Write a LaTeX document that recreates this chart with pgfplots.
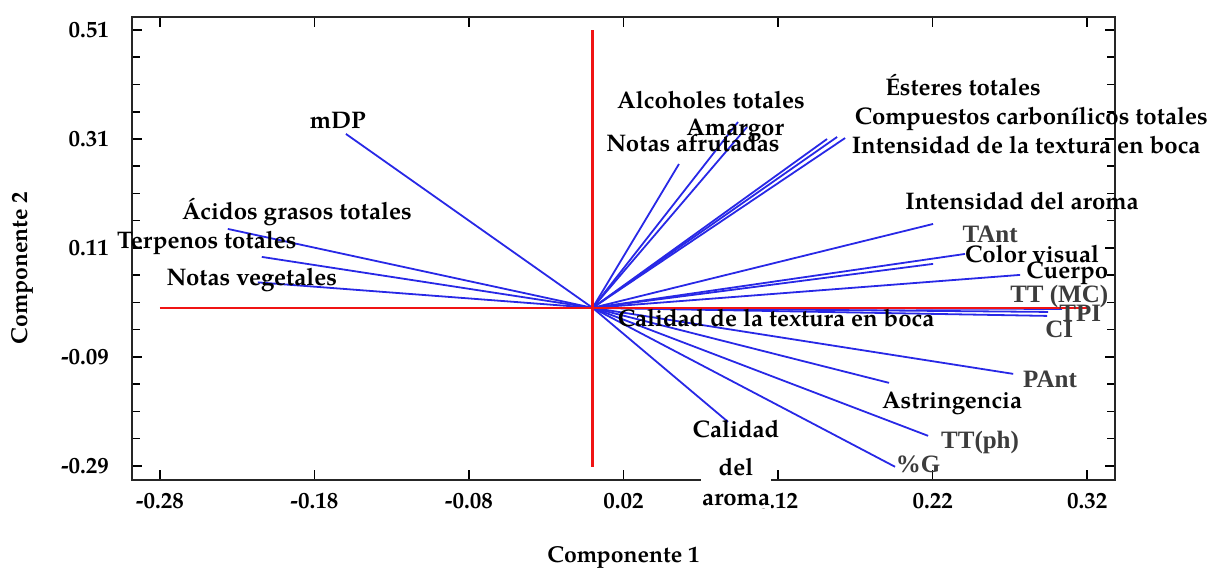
\documentclass[border=0pt]{standalone}
\usepackage{fontspec}
\setmainfont{texgyrepagella}[Extension=.otf, UprightFont=*-regular, BoldFont=*-bold, ItalicFont=*-italic, BoldItalicFont=*-bolditalic]
\newfontfamily\graylab{Liberation Serif}
\usepackage{pgfplots}
\pgfplotsset{compat=1.18}
\definecolor{vblue}{RGB}{40,40,230}
\definecolor{vred}{RGB}{240,20,20}
\definecolor{glab}{RGB}{60,60,60}
\begin{document}
\begin{tikzpicture}[
 lab/.style={font=\bfseries\fontsize{12}{14}\selectfont, inner sep=0pt, text height=8.5pt, text depth=2.5pt},
 glab/.style={font=\graylab\bfseries\fontsize{12.5}{15}\selectfont, text=glab, inner sep=0pt, text height=9pt, text depth=2.5pt},
 bl/.style={vblue, line width=0.9pt}]
\begin{axis}[name=ax, scale only axis, width=491.5pt, height=231.5pt,
 xmin=-0.298, xmax=0.338, ymin=-0.316, ymax=0.534,
 xtick={-0.28,-0.18,-0.08,0.02,0.12,0.22,0.32},
 xticklabels={-0.28,-0.18,-0.08,0.02,0.12,0.22,0.32},
 ytick={-0.29,-0.09,0.11,0.31,0.51},
 yticklabels={-0.29,-0.09,0.11,0.31,0.51},
 minor y tick num=3,
 major tick length=5pt, minor tick length=4pt,
 tick style={line width=0.8pt, black},
 axis line style={line width=1pt, black!85},
 ticklabel style={font=\bfseries\fontsize{11.5}{12}\selectfont},
 /pgf/number format/assume math mode=true,
 yticklabel style={xshift=-8pt},
 xticklabel style={yshift=-3pt},
 clip=false,
]
% loading vectors (origin to end point)
\addplot[bl] coordinates {(0,0) (-0.1596,0.3193)}; % mDP
\addplot[bl] coordinates {(0,0) (-0.236,0.1449)}; % Acidos grasos
\addplot[bl] coordinates {(0,0) (-0.214,0.0935)}; % Terpenos
\addplot[bl] coordinates {(0,0) (-0.2166,0.0468)}; % Notas vegetales
\addplot[bl] coordinates {(0,0) (0.0559,0.2641)}; % Notas afrutadas
\addplot[bl] coordinates {(0,0) (0.0941,0.3412)}; % Alcoholes
\addplot[bl] coordinates {(0,0) (0.0999,0.3320)}; % Amargor
\addplot[bl] coordinates {(0,0) (0.1517,0.3100)}; % Esteres
\addplot[bl] coordinates {(0,0) (0.1582,0.3137)}; % Compuestos carb.
\addplot[bl] coordinates {(0,0) (0.1634,0.3118)}; % Intensidad textura
\addplot[bl] coordinates {(0,0) (0.2203,0.1540)}; % Intensidad aroma
\addplot[bl] coordinates {(0,0) (0.2203,0.0807)}; % TAnt
\addplot[bl] coordinates {(0,0) (0.2410,0.0990)}; % Color visual
\addplot[bl] coordinates {(0,0) (0.2766,0.0605)}; % Cuerpo
\addplot[bl] coordinates {(0,0) (0.3038,-0.0020)}; % TT (MC)
\addplot[bl] coordinates {(0,0) (0.2948,-0.0075)}; % TPI
\addplot[bl] coordinates {(0,0) (0.2941,-0.0148)}; % CI
\addplot[bl] coordinates {(0,0) (0.2721,-0.1212)}; % PAnt
\addplot[bl] coordinates {(0,0) (0.1918,-0.1377)}; % Astringencia
\addplot[bl] coordinates {(0,0) (0.2171,-0.2350)}; % TT(ph)
\addplot[bl] coordinates {(0,0) (0.1957,-0.2918)}; % %G
\addplot[bl] coordinates {(0,0) (0.0876,-0.2093)}; % Calidad del aroma
% red reference axes
\addplot[vred, line width=1.2pt] coordinates {(-0.28,0) (0.3206,0)};
\addplot[vred, line width=1.2pt] coordinates {(0,0.51) (0,-0.292)};
% labels
\node[lab] at (axis cs:-0.1648,0.3412) {mDP};
\node[lab] at (axis cs:-0.1913,0.1724) {\'{A}cidos grasos totales};
\node[lab] at (axis cs:-0.2496,0.1192) {Terpenos totales};
\node[lab] at (axis cs:-0.2205,0.0513) {Notas vegetales};
\node[lab] at (axis cs:0.0766,0.3779) {Alcoholes totales};
\node[lab] at (axis cs:0.0922,0.3283) {Amargor};
\node[lab] at (axis cs:0.0650,0.2972) {Notas afrutadas};
\node[lab] at (axis cs:0.2397,0.4000) {\'{E}steres totales};
\node[lab] at (axis cs:0.2838,0.3485) {Compuestos carbon\'{\i}licos totales};
\node[lab] at (axis cs:0.2805,0.2953) {Intensidad de la textura en boca};
\node[lab] at (axis cs:0.2779,0.1907) {Intensidad del aroma};
\node[glab] at (axis cs:0.2572,0.1320) {TAnt};
\node[lab] at (axis cs:0.2844,0.0935) {Color visual};
\node[lab] at (axis cs:0.3071,0.0641) {Cuerpo};
\node[glab] at (axis cs:0.3019,0.0220) {TT (MC)};
\node[glab] at (axis cs:0.3155,-0.0130) {TPI};
\node[glab] at (axis cs:0.3019,-0.0423) {CI};
\node[glab] at (axis cs:0.2960,-0.1340) {PAnt};
\node[lab] at (axis cs:0.2326,-0.1744) {Astringencia};
\node[glab] at (axis cs:0.2507,-0.2460) {TT(ph)};
\node[glab] at (axis cs:0.2106,-0.2900) {\%G};
\node[lab] at (axis cs:0.1187,-0.0240) {Calidad de la textura en boca};
\node[lab] at (axis cs:0.0928,-0.2276) {Calidad};
\coordinate (cda) at (axis cs:0.0928,-0.3194);
\end{axis}
\node[font=\bfseries\fontsize{12}{15}\selectfont, fill=white, inner xsep=0.5pt, inner ysep=1pt, align=center] at (cda) {del\\aroma};
\node[font=\bfseries\fontsize{11.5}{12}\selectfont] at ([shift={(245.75pt,-39pt)}]ax.south west) {Componente 1};
\node[rotate=90, font=\bfseries\fontsize{11.5}{12}\selectfont] at ([shift={(-55pt,106pt)}]ax.south west) {Componente 2};
\pgfresetboundingbox
\path ([shift={(-66pt,-45pt)}]ax.south west) rectangle ([shift={(47pt,8.5pt)}]ax.north east);
\end{tikzpicture}
\end{document}
